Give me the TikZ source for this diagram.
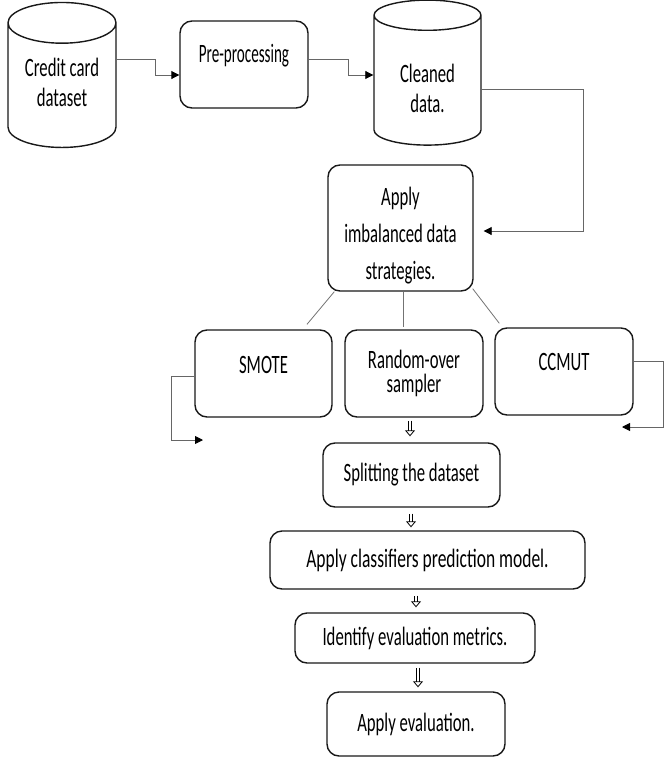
\documentclass[tikz,border=0pt]{standalone}
\usepackage{fontspec}
\setmainfont{Carlito}[FakeStretch=0.63]
\newfontfamily\wideface{Carlito}[FakeStretch=0.66]
\newfontfamily\narrowface{Carlito}[FakeStretch=0.57]
\usetikzlibrary{shapes.geometric,arrows.meta}

\begin{document}
\begin{tikzpicture}[x=1pt,y=-1pt,
			font=\fontsize{26.5}{30}\selectfont,
			every node/.style={align=center,inner sep=0pt},
			process/.style={draw=black!90,line width=1.4pt,rounded corners=12pt},
			store/.style={cylinder,draw=black!90,line width=1.4pt,shape border rotate=90,aspect=0.55,
				minimum height=145pt},
			branch/.style={draw=black!55,line width=0.8pt},
			elbow/.style={draw=black!60,line width=0.9pt,-{Triangle[length=8pt,width=8pt,color=black]}},
			hollow/.style={draw=black,double=white,double distance=2.8pt,line width=0.8pt,
				-{Triangle[open,length=6pt,width=10pt]}}]

		\useasboundingbox (0,0) rectangle (667,758);

		% top row
		\node [store,minimum width=108pt,text height=43pt] (card) at (62,85.5) {Credit card\\dataset};
		\node [process,minimum width=128pt,minimum height=87pt,text height=20pt,text depth=25pt,
			font=\narrowface\fontsize{26.5}{30}\selectfont] (pre) at (244,64.5) {Pre-processing};
		\node [store,minimum width=107pt,text height=65pt] (clean) at (427.5,80.5) {Cleaned\\data.};

		\node [process,minimum width=145pt,minimum height=126pt,text height=107pt,font=\fontsize{26.5}{37}\selectfont] (apply) at (400.5,228)
			{Apply\\imbalanced data\\strategies.};

		% strategies
		\node [process,minimum width=137pt,minimum height=87pt,text height=20pt,text depth=20pt] (smote) at (263.5,373.5) {SMOTE};
		\node [process,minimum width=138pt,minimum height=87pt,font=\fontsize{26.5}{24}\selectfont] (rand) at (414,373.5) {Random-over\\sampler};
		\node [process,minimum width=138pt,minimum height=87pt,text height=20pt,text depth=23pt] (ccmut) at (564,371.5) {CCMUT};
		\coordinate (smoteend) at (203,440);
		\coordinate (ccmutend) at (622,427);

		% pipeline
		\node [process,minimum width=177pt,minimum height=64pt] (split) at (411.5,475) {Splitting the dataset};
		\node [process,minimum width=315pt,minimum height=58pt,font=\wideface\fontsize{26.5}{30}\selectfont] (model) at (427.5,560) {Apply classifiers prediction model.};
		\node [process,minimum width=240pt,minimum height=50pt] (metric) at (415,638) {Identify evaluation metrics.};
		\node [process,minimum width=178pt,minimum height=64pt] (evalu) at (416,724) {Apply evaluation.};

		\draw [elbow] ([yshift=26.5pt]card.east) -- ++(39,0) |- ([yshift=-10.5pt]pre.west);
		\draw [elbow] ([yshift=5.5pt]pre.east) -- ++(40,0) |- ([yshift=5.5pt]clean.west);
		\draw [elbow,shorten >=10pt] ([yshift=-8.5pt]clean.east) -- ++(102,0) |- ([yshift=-3pt]apply.east);

		\draw [branch] ([xshift=7pt]apply.south west) -- ([xshift=43.5pt,yshift=5pt]smote.north);
		\draw [branch] ([xshift=2.5pt]apply.south) -- ([xshift=-11pt,yshift=2pt]rand.north);
		\draw [branch] ([xshift=-1pt,yshift=3pt]apply.south east) -- ([xshift=5pt,yshift=4pt]ccmut.north west);

		\draw [elbow] ([yshift=-2.5pt]smote.west) -- ++(-23,0) |- (smoteend);
		\draw [elbow] ([yshift=10.5pt]ccmut.east) -- ++(30,0) |- (ccmutend);

		\draw [hollow,shorten <=3pt,shorten >=6pt] ([xshift=-4pt]rand.south) -- ([xshift=-1.5pt]split.north);
		\draw [hollow,shorten <=6pt,shorten >=3pt] ([xshift=-0.5pt]split.south) -- ([xshift=-16.5pt]model.north);
		\draw [hollow,shorten <=6pt,shorten >=5pt] ([xshift=-11.5pt]model.south) -- ([xshift=1pt]metric.north);
		\draw [hollow,shorten <=4pt,shorten >=4pt] ([xshift=3pt]metric.south) -- ([xshift=2pt]evalu.north);

		\end{tikzpicture}
\end{document}
